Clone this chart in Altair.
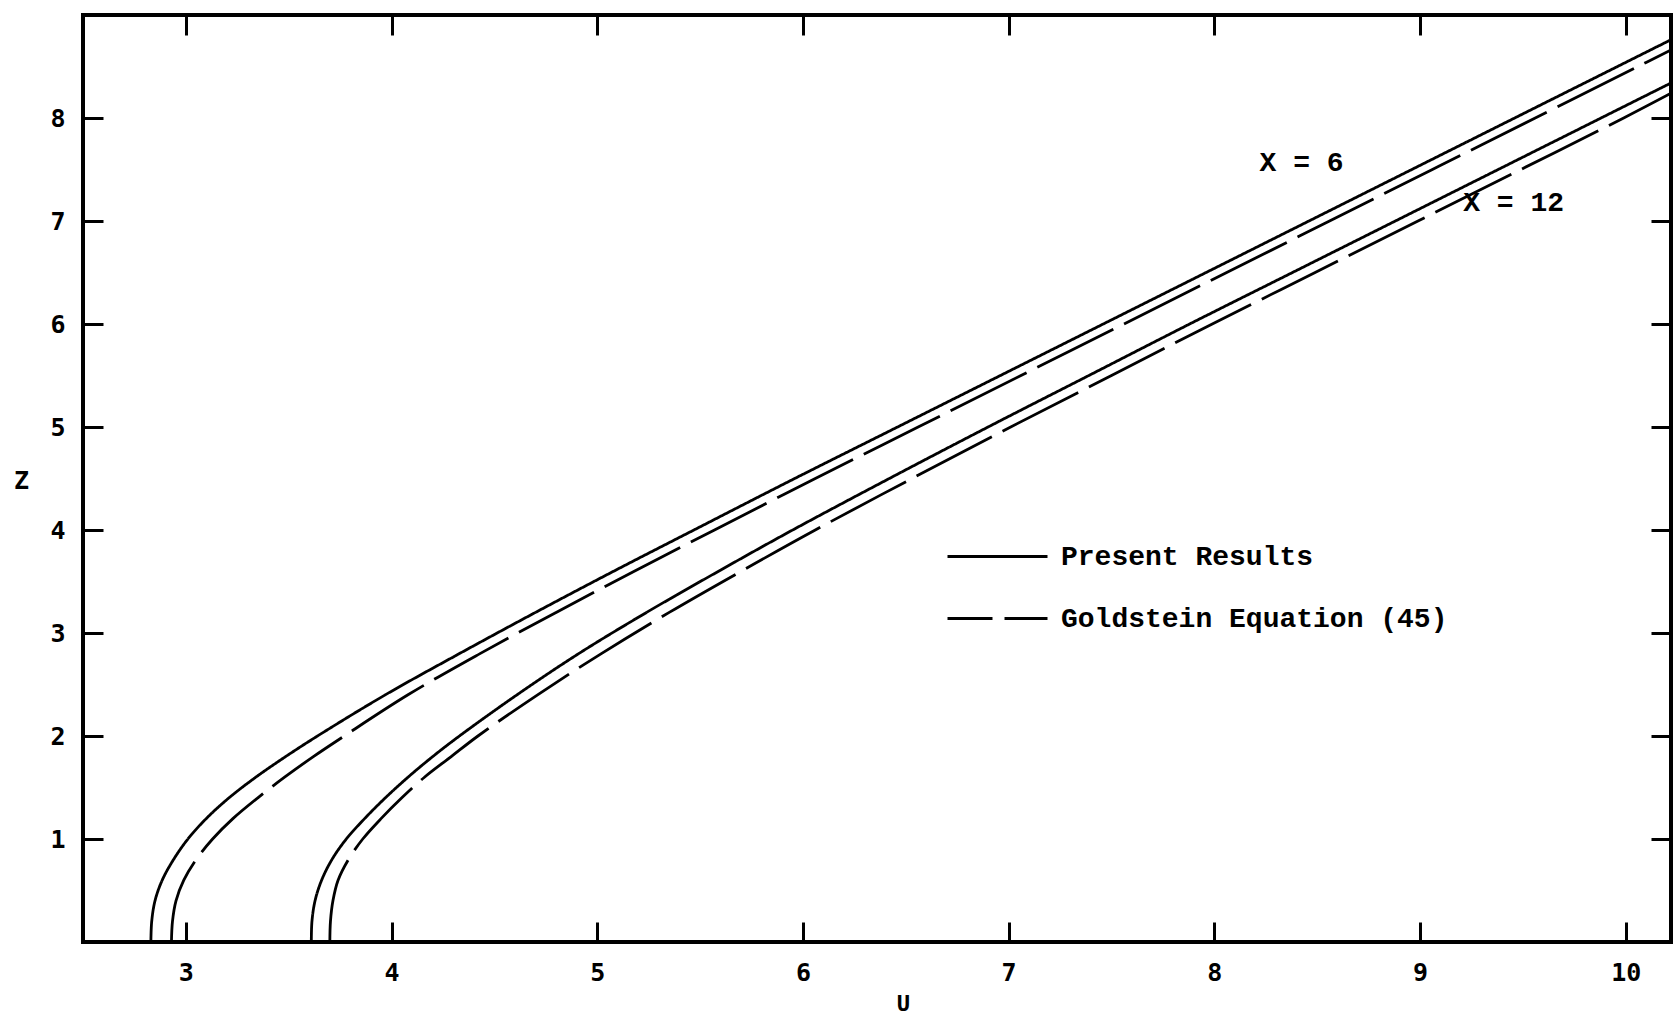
import altair as alt
import pandas as pd

# Velocity profiles U(Z) at two stations: present computation vs. Goldstein equation (45)
u_x6_present = [2.83, 2.834, 2.85, 2.885, 2.94, 3.01, 3.10, 3.21, 3.34, 3.485, 3.64, 3.97,
                4.33, 4.70, 5.08, 5.47, 5.96, 6.46, 6.96, 7.46, 7.96, 8.46, 8.96, 9.46,
                9.96, 10.22]
z_x6_present = [0.00, 0.20, 0.40, 0.60, 0.80, 1.00, 1.20, 1.40, 1.60, 1.80, 2.00, 2.40,
                2.80, 3.20, 3.60, 4.00, 4.50, 5.00, 5.50, 6.00, 6.50, 7.00, 7.50, 8.00,
                8.50, 8.76]

u_x6_goldstein = [2.93, 2.935, 2.952, 2.99, 3.05, 3.13, 3.23, 3.35, 3.48, 3.62, 3.77, 4.08,
                  4.43, 4.80, 5.18, 5.57, 6.06, 6.56, 7.06, 7.56, 8.06, 8.56, 9.06, 9.56,
                  10.06, 10.22]
z_x6_goldstein = [0.00, 0.20, 0.40, 0.60, 0.80, 1.00, 1.20, 1.40, 1.60, 1.80, 2.00, 2.40,
                  2.80, 3.20, 3.60, 4.00, 4.50, 5.00, 5.50, 6.00, 6.50, 7.00, 7.50, 8.00,
                  8.50, 8.66]

u_x12_present = [3.61, 3.613, 3.628, 3.66, 3.71, 3.78, 3.87, 3.97, 4.08, 4.20, 4.33, 4.61,
                 4.91, 5.24, 5.59, 5.95, 6.42, 6.90, 7.39, 7.88, 8.38, 8.88, 9.38, 9.88,
                 10.22]
z_x12_present = [0.00, 0.20, 0.40, 0.60, 0.80, 1.00, 1.20, 1.40, 1.60, 1.80, 2.00, 2.40,
                 2.80, 3.20, 3.60, 4.00, 4.50, 5.00, 5.50, 6.00, 6.50, 7.00, 7.50, 8.00,
                 8.34]

u_x12_goldstein = [3.70, 3.703, 3.715, 3.74, 3.79, 3.86, 3.95, 4.05, 4.16, 4.29, 4.42, 4.71,
                   5.02, 5.35, 5.70, 6.06, 6.53, 7.01, 7.50, 7.99, 8.49, 8.99, 9.49, 9.99,
                   10.22]
z_x12_goldstein = [0.00, 0.20, 0.40, 0.60, 0.80, 1.00, 1.20, 1.40, 1.60, 1.80, 2.00, 2.40,
                   2.80, 3.20, 3.60, 4.00, 4.50, 5.00, 5.50, 6.00, 6.50, 7.00, 7.50, 8.00,
                   8.24]

methods = ["Present Results", "Goldstein Equation (45)"]
stations = ["X = 6", "X = 12"]

# station labels and the (U, Z) point each one is written at
station_label_u = [8.22, 9.21]
station_label_z = [7.56, 7.17]

u_ticks = [3, 4, 5, 6, 7, 8, 9, 10]
z_ticks = [1, 2, 3, 4, 5, 6, 7, 8]

rows = []
for station, method, us, zs in [
    (stations[0], methods[0], u_x6_present, z_x6_present),
    (stations[0], methods[1], u_x6_goldstein, z_x6_goldstein),
    (stations[1], methods[0], u_x12_present, z_x12_present),
    (stations[1], methods[1], u_x12_goldstein, z_x12_goldstein),
]:
    for i, (u, z) in enumerate(zip(us, zs)):
        rows.append({"U": u, "Z": z, "station": station, "method": method,
                     "curve": station + " " + method, "idx": i})
curves = pd.DataFrame(rows)

labels = pd.DataFrame({"U": station_label_u, "Z": station_label_z, "label": stations})

MONO = "Liberation Mono"
DIGITS = "DejaVu Sans Mono"
TICK_LEN = 20

x_scale = alt.Scale(domain=[2.5, 10.22], nice=False, zero=False)
y_scale = alt.Scale(domain=[0, 9], nice=False, zero=False)


def tick_axis(orient, values):
    # inward-pointing tick marks: the axis is pulled inside the frame by the tick length
    return alt.Axis(orient=orient, offset=-TICK_LEN, values=values, ticks=True,
                    tickSize=TICK_LEN, tickWidth=3, tickColor="black", labels=False,
                    domain=False, grid=False, title=None)


x_main = alt.Axis(orient="bottom", values=u_ticks, format="d", ticks=False, tickSize=0,
                  domain=False, grid=False, labelFont=DIGITS, labelFontWeight="bold",
                  labelFontSize=25, labelColor="black", labelPadding=18,
                  title="U", titleFont=MONO, titleFontWeight="bold", titleFontSize=23,
                  titleColor="black", titleX=820, titleY=61, titleAlign="center",
                  titleBaseline="middle")

y_main = alt.Axis(orient="left", values=z_ticks, format="d", ticks=False, tickSize=0,
                  domain=False, grid=False, labelFont=DIGITS, labelFontWeight="bold",
                  labelFontSize=25, labelColor="black", labelPadding=18,
                  title="Z", titleFont=DIGITS, titleFontWeight="bold", titleFontSize=25,
                  titleColor="black", titleAngle=0, titleX=-62, titleY=465,
                  titleAlign="center", titleBaseline="middle")

legend = alt.Legend(orient="none", legendX=863, legendY=526, title=None,
                    symbolType="stroke", symbolSize=10000, symbolStrokeWidth=2.8,
                    symbolStrokeColor="black", symbolDashOffset=40,
                    labelFont=MONO, labelFontWeight="bold", labelFontSize=28,
                    labelColor="black", labelOffset=12, labelLimit=800,
                    clipHeight=31, rowPadding=31, padding=0)

lines = alt.Chart(curves).mark_line(
    color="black", strokeWidth=2.8, interpolate="catmull-rom", clip=True
).encode(
    x=alt.X("U:Q", scale=x_scale, axis=x_main),
    y=alt.Y("Z:Q", scale=y_scale, axis=y_main),
    detail="curve:N",
    strokeDash=alt.StrokeDash("method:N",
                              scale=alt.Scale(domain=methods, range=[[1, 0], [85, 12]]),
                              legend=legend),
    order=alt.Order("idx:Q"),
)

station_text = alt.Chart(labels).mark_text(
    align="left", baseline="middle", font=MONO, fontWeight="bold", fontSize=28,
    color="black"
).encode(
    x=alt.X("U:Q", scale=x_scale, axis=tick_axis("bottom", u_ticks)),
    y=alt.Y("Z:Q", scale=y_scale, axis=tick_axis("left", z_ticks)),
    text="label:N",
)

# opposite-side ticks carried by an invisible copy of the curve points
frame_ticks = alt.Chart(curves).mark_point(opacity=0).encode(
    x=alt.X("U:Q", scale=x_scale, axis=tick_axis("top", u_ticks)),
    y=alt.Y("Z:Q", scale=y_scale, axis=tick_axis("right", z_ticks)),
)

chart = alt.layer(lines, station_text, frame_ticks).resolve_axis(
    x="independent", y="independent"
).properties(
    width=1588,
    height=927,
    autosize=alt.AutoSizeParams(type="none"),
    padding={"left": 83, "top": 15, "right": 5, "bottom": 77},
    background="white",
).configure_view(
    stroke="black", strokeWidth=4
)

chart.save("out.html", embed_options={"renderer": "svg", "actions": False})
